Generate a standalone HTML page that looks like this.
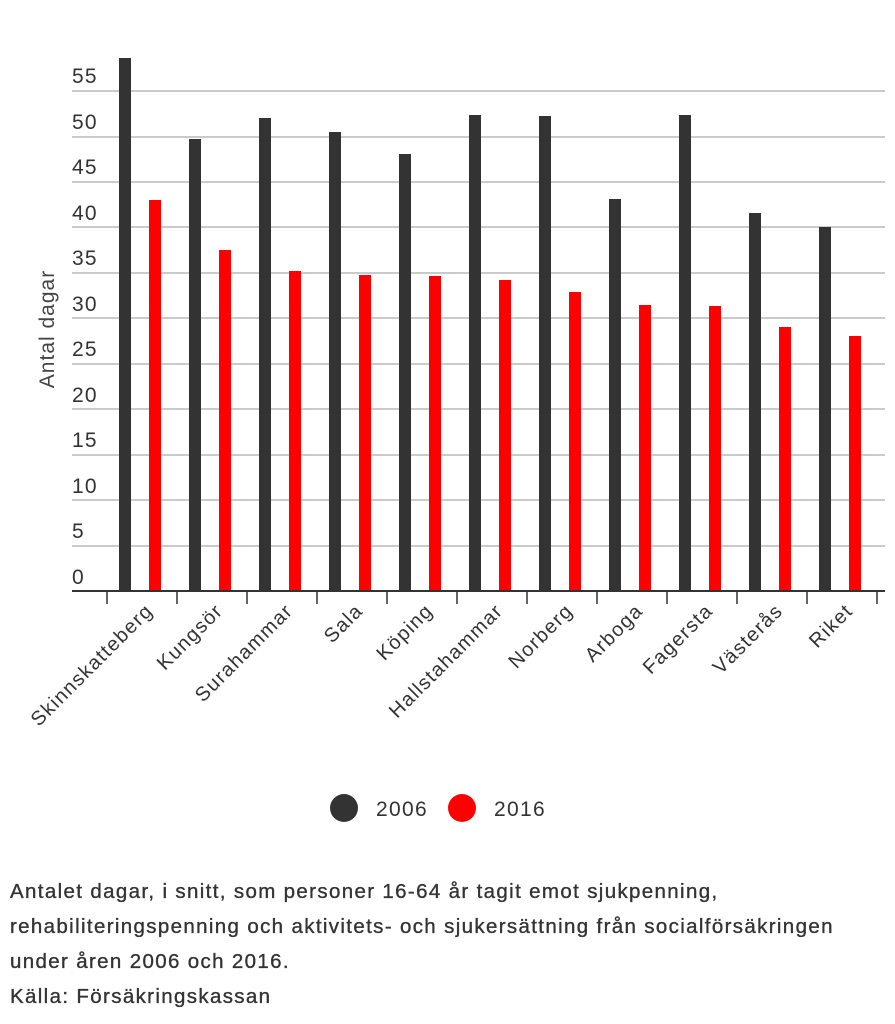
<!DOCTYPE html>
<html><head><meta charset="utf-8"><style>
body{margin:0;background:#fff;width:895px;height:1024px;overflow:hidden;font-family:"Liberation Sans",sans-serif}
.cap{position:absolute;left:10px;font-size:20.5px;letter-spacing:1.35px;color:#333;line-height:35px;top:874px;-webkit-text-stroke:0.35px #333;white-space:nowrap}
svg text{-webkit-text-stroke:0.3px currentColor}
</style></head><body>
<svg width="895" height="860" style="position:absolute;left:0;top:0" font-family="Liberation Sans, sans-serif">
<g stroke="#aaa" stroke-width="1.3">
<line x1="72" x2="885" y1="546" y2="546"/><line x1="72" x2="885" y1="500" y2="500"/>
<line x1="72" x2="885" y1="455" y2="455"/><line x1="72" x2="885" y1="409" y2="409"/>
<line x1="72" x2="885" y1="364" y2="364"/><line x1="72" x2="885" y1="318" y2="318"/>
<line x1="72" x2="885" y1="273" y2="273"/><line x1="72" x2="885" y1="227" y2="227"/>
<line x1="72" x2="885" y1="182" y2="182"/><line x1="72" x2="885" y1="137" y2="137"/>
<line x1="72" x2="885" y1="91" y2="91"/>
</g>
<g fill="#333" color="#333" font-size="21" letter-spacing="1.2">
<text x="72" y="584">0</text><text x="72" y="538">5</text><text x="72" y="493">10</text>
<text x="72" y="447">15</text><text x="72" y="402">20</text><text x="72" y="356">25</text>
<text x="72" y="311">30</text><text x="72" y="265">35</text><text x="72" y="220">40</text>
<text x="72" y="174">45</text><text x="72" y="129">50</text><text x="72" y="83">55</text>
</g>
<text transform="translate(54,329) rotate(-90)" text-anchor="middle" font-size="21" letter-spacing="1" fill="#444" color="#444">Antal dagar</text>
<g fill="#333">
<rect x="119" y="58" width="12" height="533"/><rect x="189" y="139" width="12" height="452"/>
<rect x="259" y="118" width="12" height="473"/><rect x="329" y="132" width="12" height="459"/>
<rect x="399" y="154" width="12" height="437"/><rect x="469" y="115" width="12" height="476"/>
<rect x="539" y="116" width="12" height="475"/><rect x="609" y="199" width="12" height="392"/>
<rect x="679" y="115" width="12" height="476"/><rect x="749" y="213" width="12" height="378"/>
<rect x="819" y="227" width="12" height="364"/>
</g>
<g fill="#f00">
<rect x="149" y="200" width="12" height="391"/><rect x="219" y="250" width="12" height="341"/>
<rect x="289" y="271" width="12" height="320"/><rect x="359" y="275" width="12" height="316"/>
<rect x="429" y="276" width="12" height="315"/><rect x="499" y="280" width="12" height="311"/>
<rect x="569" y="292" width="12" height="299"/><rect x="639" y="305" width="12" height="286"/>
<rect x="709" y="306" width="12" height="285"/><rect x="779" y="327" width="12" height="264"/>
<rect x="849" y="336" width="12" height="255"/>
</g>
<line x1="72" x2="885" y1="591" y2="591" stroke="#333" stroke-width="2"/>
<g stroke="#333" stroke-width="1.5">
<line x1="107" x2="107" y1="591" y2="604"/><line x1="177" x2="177" y1="591" y2="604"/>
<line x1="247" x2="247" y1="591" y2="604"/><line x1="317" x2="317" y1="591" y2="604"/>
<line x1="387" x2="387" y1="591" y2="604"/><line x1="457" x2="457" y1="591" y2="604"/>
<line x1="527" x2="527" y1="591" y2="604"/><line x1="597" x2="597" y1="591" y2="604"/>
<line x1="667" x2="667" y1="591" y2="604"/><line x1="737" x2="737" y1="591" y2="604"/>
<line x1="807" x2="807" y1="591" y2="604"/><line x1="877" x2="877" y1="591" y2="604"/>
</g>
<g fill="#333" color="#333" font-size="20" letter-spacing="1.3" text-anchor="end">
<text transform="translate(154,612) rotate(-45)">Skinnskatteberg</text>
<text transform="translate(224,612) rotate(-45)">Kungsör</text>
<text transform="translate(294,612) rotate(-45)">Surahammar</text>
<text transform="translate(364,612) rotate(-45)">Sala</text>
<text transform="translate(434,612) rotate(-45)">Köping</text>
<text transform="translate(504,612) rotate(-45)">Hallstahammar</text>
<text transform="translate(574,612) rotate(-45)">Norberg</text>
<text transform="translate(644,612) rotate(-45)">Arboga</text>
<text transform="translate(714,612) rotate(-45)">Fagersta</text>
<text transform="translate(784,612) rotate(-45)">Västerås</text>
<text transform="translate(854,612) rotate(-45)">Riket</text>
</g>
<circle cx="344" cy="808" r="14" fill="#333"/>
<text x="376" y="816" font-size="21" letter-spacing="1.3" fill="#333" color="#333">2006</text>
<circle cx="462" cy="808" r="14" fill="#f00"/>
<text x="494" y="816" font-size="21" letter-spacing="1.3" fill="#333" color="#333">2016</text>
</svg>
<div class="cap">Antalet dagar, i snitt, som personer 16-64 år tagit emot sjukpenning,<br>rehabiliteringspenning och aktivitets- och sjukersättning från socialförsäkringen<br>under åren 2006 och 2016.<br>Källa: Försäkringskassan</div>
</body></html>
